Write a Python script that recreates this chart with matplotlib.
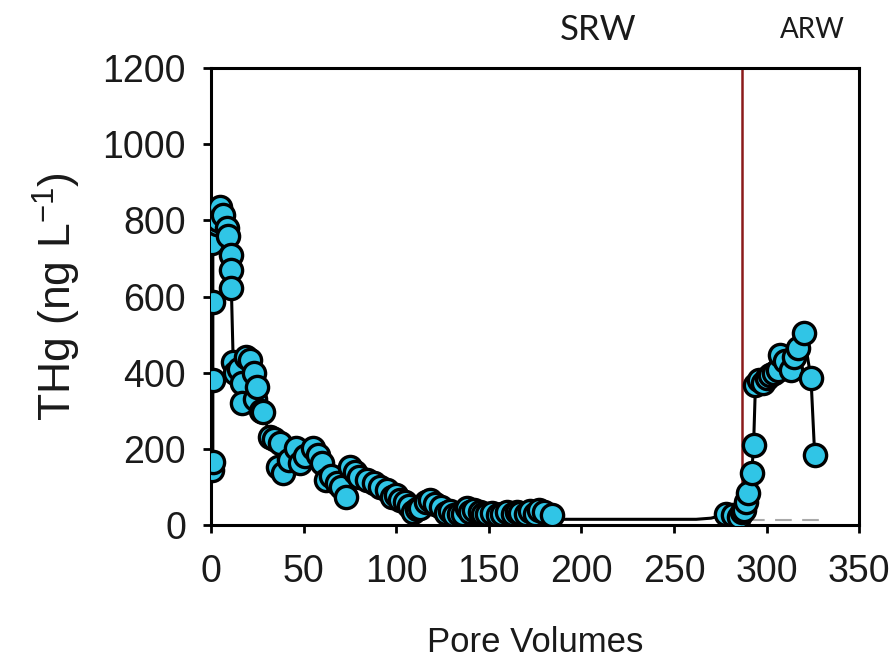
import matplotlib.pyplot as plt
import numpy as np

# THg en el efluente (SRW luego ARW)
x_srw = [0.5, 1, 1, 1, 1, 0.5, 3, 4, 5, 6.5, 8.6, 9, 11, 11, 11, 12, 13, 15, 17, 17,
         19, 21, 23, 24, 25, 27, 28, 32, 34, 37, 36, 39, 42, 46, 48, 51, 55, 58, 60,
         62, 65, 68, 70, 73, 75, 78, 80, 84, 88, 91, 95, 98, 100, 102, 105, 107, 109,
         111, 113, 116, 118, 121, 124, 127, 129, 131, 134, 136, 138, 140, 142, 145, 147,
         149, 152, 155, 157, 160, 163, 165, 167, 170, 172, 175, 177, 180, 184]
y_srw = [145, 165, 380, 585, 756, 740, 790, 800, 835, 814, 780, 760, 709, 669, 622, 428,
         400, 410, 372, 320, 440, 433, 400, 330, 362, 300, 297, 231, 225, 215, 152, 136,
         170, 202, 163, 180, 202, 185, 163, 118, 130, 110, 100, 73, 152, 140, 126, 118,
         110, 100, 92, 73, 80, 66, 60, 50, 34, 42, 45, 60, 66, 55, 47, 31, 38, 25, 30, 28,
         45, 35, 40, 34, 28, 30, 31, 26, 28, 33, 30, 35, 31, 28, 36, 30, 39, 35, 26]

# tramo sin muestras (solo linea)
x_gap = [184, 190, 262, 270, 280]
y_gap = [26, 15, 15, 18, 30]

x_arw = [278, 282, 285, 287, 288, 289, 290, 292, 293, 294, 296, 298, 300, 302, 304,
         306, 307, 310, 313, 315, 317, 320, 324, 326]
y_arw = [30, 25, 20, 35, 39, 60, 84, 136, 210, 367, 380, 373, 385, 394, 400, 407, 446,
         430, 407, 440, 465, 504, 386, 184]

cambio = 287  # cambio SRW -> ARW

fig = plt.figure(figsize=(8.94, 6.7), dpi=100)
ax = fig.add_axes([0.236, 0.2164, 0.725, 0.682])

x_line = x_srw + x_gap[1:] + x_arw
y_line = y_srw + y_gap[1:] + y_arw
ax.plot(x_line, y_line, color='black', lw=2.2, zorder=2)
ax.plot([290, 330], [14, 14], color='#aaaaaa', lw=1.5, ls=(0, (8, 5)), zorder=1)

ax.axvline(cambio, color='#8B1A1A', lw=1.8, zorder=1)

ax.plot(x_srw, y_srw, 'o', ms=16, mfc='#30C5E6', mec='black', mew=2.4, zorder=3)
ax.plot(x_arw, y_arw, 'o', ms=16, mfc='#30C5E6', mec='black', mew=2.4, zorder=3)

ax.set_xlim(0, 350)
ax.set_ylim(0, 1200)
ax.set_xticks(np.arange(0, 351, 50))
ax.set_yticks(np.arange(0, 1201, 200))
for s in ax.spines.values():
    s.set_linewidth(2.2)
ax.tick_params(direction='out', length=6, width=2, labelsize=27, labelcolor='#1a1a1a', pad=12)
ax.tick_params(axis='x', pad=15)
for lab in ax.get_xticklabels() + ax.get_yticklabels():
    lab.set_family('Liberation Sans')

ax.set_xlabel('Pore Volumes', fontsize=25, family='Liberation Sans', color='#1a1a1a', labelpad=26)
ax.set_ylabel('THg (ng L$^{\\mathregular{-1}}$)', fontsize=32, family='Liberation Sans',
              color='#1a1a1a', labelpad=14)

fig.text(598 / 894, 1 - 30 / 670, 'SRW', fontsize=25, family='Lato', ha='center', va='center', color='#1a1a1a')
fig.text(812 / 894, 1 - 30 / 670, 'ARW', fontsize=20, family='Lato', ha='center', va='center', color='#1a1a1a')

plt.savefig('out.png', dpi=100)
